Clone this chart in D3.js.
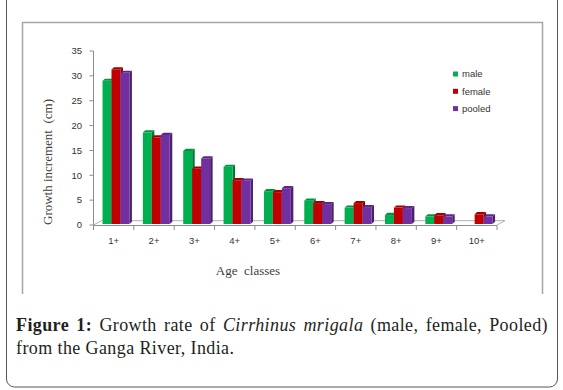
<!DOCTYPE html>
<html>
<head>
<meta charset="utf-8">
<script src="https://cdn.jsdelivr.net/npm/d3@7"></script>
<style>
  html, body { margin: 0; padding: 0; background: #fff; }
  svg { display: block; }
</style>
</head>
<body>
<div id="wrapper"></div>
<script>
// Dados
const ageClasses = ["1+", "2+", "3+", "4+", "5+", "6+", "7+", "8+", "9+", "10+"];
const seriesNames = ["male", "female", "pooled"];
const maleValues = [29.0, 18.6, 14.9, 11.7, 6.8, 4.9, 3.5, 2.0, 1.7, 0];
const femaleValues = [31.3, 17.6, 11.3, 9.0, 6.6, 4.4, 4.4, 3.5, 1.95, 2.15];
const pooledValues = [30.6, 18.1, 13.4, 8.9, 7.4, 4.2, 3.6, 3.4, 1.7, 1.7];
const yTicks = [0, 5, 10, 15, 20, 25, 30, 35];
const colors = ["#00b050", "#c00000", "#7030a0"];

function draw() {
  const width = 563, height = 390;
  const svg = d3.select("#wrapper").append("svg")
    .attr("width", width)
    .attr("height", height);

  // moldura externa arredondada
  svg.append("rect")
    .attr("x", 6.5).attr("y", -10)
    .attr("width", 551).attr("height", 397)
    .attr("rx", 8)
    .attr("fill", "#fff")
    .attr("stroke", "#555")
    .attr("stroke-width", 1);

  // moldura do gráfico (sem linha de baixo)
  svg.append("path")
    .attr("d", "M22.5,294 V22.5 H542.5 V294")
    .attr("fill", "none")
    .attr("stroke", "#a6a6a6")
    .attr("stroke-width", 1.5);

  const plot = { left: 93.5, right: 497, top: 51, bottom: 225 };
  const y = d3.scaleLinear().domain([0, 35]).range([plot.bottom, plot.top]);
  const x = d3.scaleBand().domain(ageClasses).range([plot.left, plot.right]).padding(0);
  const xs = d3.scaleBand().domain(seriesNames).range([0, x.bandwidth()])
    .paddingInner(0).paddingOuter(0.75);

  const depth = { dx: 2.5, dy: -2.2 };
  const floor = { dx: 8, dy: -4.3 };

  // piso 3D
  svg.append("path")
    .attr("d", `M${plot.left},${plot.bottom} L${plot.left + floor.dx},${plot.bottom + floor.dy}
      L${plot.right + floor.dx},${plot.bottom + floor.dy} L${plot.right},${plot.bottom}`)
    .attr("fill", "none")
    .attr("stroke", "#b0b0b0")
    .attr("stroke-width", 1);

  // eixo Y
  svg.append("line")
    .attr("x1", plot.left).attr("x2", plot.left)
    .attr("y1", y(35)).attr("y2", y(0))
    .attr("stroke", "#8c8c8c");
  const yAxis = svg.append("g");
  yAxis.selectAll("line").data(yTicks).enter().append("line")
    .attr("x1", plot.left - 4).attr("x2", plot.left)
    .attr("y1", d => y(d)).attr("y2", d => y(d))
    .attr("stroke", "#8c8c8c");
  yAxis.selectAll("text").data(yTicks).enter().append("text")
    .attr("x", 82).attr("y", d => y(d))
    .attr("dy", "0.35em")
    .attr("text-anchor", "end")
    .attr("font-family", "Liberation Sans, Arial, sans-serif")
    .attr("font-size", 9.5)
    .attr("fill", "#333")
    .text(d => d);

  // eixo X
  svg.append("line")
    .attr("x1", plot.left).attr("x2", plot.right)
    .attr("y1", plot.bottom + 0.5).attr("y2", plot.bottom + 0.5)
    .attr("stroke", "#8c8c8c");
  const xEdges = ageClasses.map(d => x(d)).concat([plot.right]);
  svg.append("g").selectAll("line").data(xEdges).enter().append("line")
    .attr("x1", d => d).attr("x2", d => d)
    .attr("y1", plot.bottom + 0.5).attr("y2", plot.bottom + 5)
    .attr("stroke", "#8c8c8c");
  svg.append("g").selectAll("text").data(ageClasses).enter().append("text")
    .attr("x", d => x(d) + x.bandwidth() / 2)
    .attr("y", 241)
    .attr("dy", "0.35em")
    .attr("text-anchor", "middle")
    .attr("font-family", "Liberation Sans, Arial, sans-serif")
    .attr("font-size", 9.5)
    .attr("fill", "#333")
    .text(d => d);

  // barras 3D
  const allSeries = [maleValues, femaleValues, pooledValues];
  const bars = [];
  ageClasses.forEach((c, i) => {
    seriesNames.forEach((s, j) => {
      bars.push({ cat: c, series: s, idx: j, value: allSeries[j][i] });
    });
  });
  const shift = 2.3;
  const base = plot.bottom - 1;
  const barG = svg.append("g");
  bars.filter(d => d.value > 0).forEach(d => {
    const x0 = x(d.cat) + xs(d.series) + shift;
    const w = xs.bandwidth();
    const top = y(d.value);
    const col = d3.color(colors[d.idx]);
    // lado direito
    barG.append("path")
      .attr("d", `M${x0 + w},${base} L${x0 + w + depth.dx},${base + depth.dy}
        L${x0 + w + depth.dx},${top + depth.dy} L${x0 + w},${top} Z`)
      .attr("fill", col.darker(1.1));
    // topo
    barG.append("path")
      .attr("d", `M${x0},${top} L${x0 + depth.dx},${top + depth.dy}
        L${x0 + w + depth.dx},${top + depth.dy} L${x0 + w},${top} Z`)
      .attr("fill", col.darker(0.5));
    // frente
    barG.append("rect")
      .attr("x", x0).attr("y", top)
      .attr("width", w).attr("height", base - top)
      .attr("fill", colors[d.idx]);
  });

  // legenda
  const legend = svg.append("g").attr("transform", "translate(453,74)");
  seriesNames.forEach((s, j) => {
    legend.append("rect")
      .attr("x", 0).attr("y", j * 17.3 - 2.5)
      .attr("width", 5).attr("height", 5)
      .attr("fill", colors[j]);
    legend.append("text")
      .attr("x", 9).attr("y", j * 17.3)
      .attr("dy", "0.35em")
      .attr("font-family", "Liberation Sans, Arial, sans-serif")
      .attr("font-size", 9.5)
      .attr("fill", "#333")
      .text(s);
  });

  // títulos dos eixos
  svg.append("text")
    .attr("transform", "translate(47,162) rotate(-90)")
    .attr("text-anchor", "middle")
    .attr("dy", "0.35em")
    .attr("font-family", "Liberation Serif, Times New Roman, serif")
    .attr("font-size", 13)
    .attr("fill", "#404040")
    .style("white-space", "pre")
    .text("Growth increment  (cm)");
  svg.append("text")
    .attr("x", 248).attr("y", 270)
    .attr("text-anchor", "middle")
    .attr("dy", "0.35em")
    .attr("font-family", "Liberation Serif, Times New Roman, serif")
    .attr("font-size", 13)
    .attr("fill", "#404040")
    .style("white-space", "pre")
    .text("Age  classes");

  // legenda da figura
  const capFont = "Liberation Serif, Times New Roman, serif";
  const line1 = svg.append("text")
    .attr("x", 16).attr("y", 331)
    .attr("font-family", capFont)
    .attr("font-size", 18)
    .attr("letter-spacing", 0.4)
    .attr("fill", "#231f20");
  line1.append("tspan").attr("font-weight", "bold").text("Figure 1:");
  line1.append("tspan").text(" Growth rate of ");
  line1.append("tspan").attr("font-style", "italic").text("Cirrhinus mrigala");
  line1.append("tspan").text(" (male, female, Pooled)");
  // justificado até a margem direita
  const natural = line1.node().getComputedTextLength();
  const spaces = 9;
  line1.attr("word-spacing", Math.max(0, (532 - natural) / spaces));

  svg.append("text")
    .attr("x", 16).attr("y", 354)
    .attr("font-family", capFont)
    .attr("font-size", 18)
    .attr("letter-spacing", 0.4)
    .attr("fill", "#231f20")
    .text("from the Ganga River, India.");
}
draw();
</script>
</body>
</html>
